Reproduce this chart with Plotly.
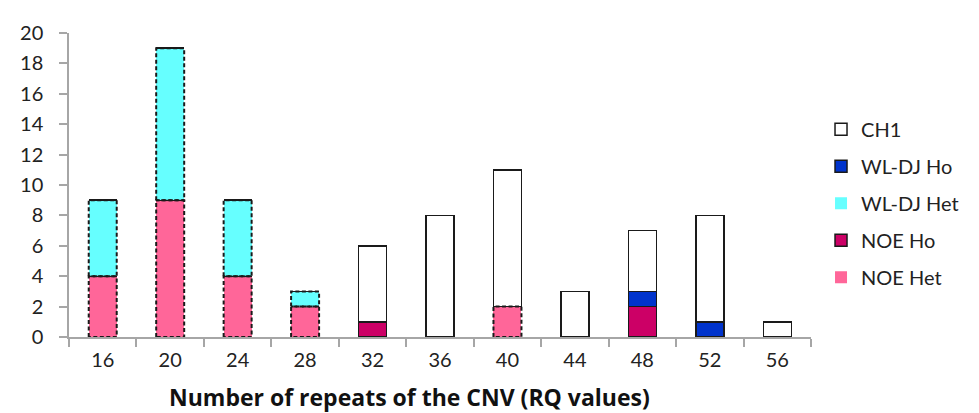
import plotly.graph_objects as go

categories = [16, 20, 24, 28, 32, 36, 40, 44, 48, 52, 56]
noe_het = [4, 9, 4, 2, 0, 0, 2, 0, 0, 0, 0]
noe_ho = [0, 0, 0, 0, 1, 0, 0, 0, 2, 0, 0]
wldj_het = [5, 10, 5, 1, 0, 0, 0, 0, 0, 0, 0]
wldj_ho = [0, 0, 0, 0, 0, 0, 0, 0, 1, 1, 0]
ch1 = [0, 0, 0, 0, 5, 8, 9, 3, 4, 7, 1]

series = [
    ("NOE Het", noe_het, "#FF6699", True, 5),
    ("NOE Ho", noe_ho, "#CC0066", False, 4),
    ("WL-DJ Het", wldj_het, "#66FFFF", True, 3),
    ("WL-DJ Ho", wldj_ho, "#0033CC", False, 2),
    ("CH1", ch1, "#FFFFFF", False, 1),
]

BAR_W = 1.66
FONT = "Lato, 'Open Sans', sans-serif"

fig = go.Figure()
base = [0] * len(categories)
outline_x, outline_y = [], []
for i, (name, vals, color, dashed, rank) in enumerate(series):
    fig.add_trace(go.Bar(
        x=categories, y=vals, name=name, width=BAR_W,
        marker=dict(color=color,
                    line=dict(color="#1a1a1a", width=0 if dashed else 1.5)),
        legendgroup=name, legendrank=rank,
    ))
    if dashed:
        for c, v, b in zip(categories, vals, base):
            if v > 0:
                x0, x1 = c - BAR_W / 2, c + BAR_W / 2
                outline_x += [x0, x0, x1, x1, x0, None]
                outline_y += [b, b + v, b + v, b, b, None]
    base = [b + v for b, v in zip(base, vals)]

fig.add_trace(go.Scatter(
    x=outline_x, y=outline_y, mode="lines", showlegend=False, hoverinfo="skip",
    line=dict(color="#1a1a1a", width=2, dash="4px,2.5px"),
))

minor_ticks = [c - 2 for c in categories] + [categories[-1] + 2]

fig.update_layout(
    barmode="stack",
    width=979, height=413,
    margin=dict(l=60, r=176, t=17, b=84),
    plot_bgcolor="white", paper_bgcolor="white",
    font=dict(family=FONT, size=20, color="#222222"),
    legend=dict(traceorder="grouped", x=1.0135, xanchor="left", y=0.44, yanchor="middle",
                font=dict(size=20), tracegroupgap=8, itemwidth=30),
    xaxis=dict(
        range=[14, 58], tickvals=categories, ticktext=[str(c) for c in categories],
        ticks="outside", ticklen=4, tickcolor="rgba(0,0,0,0)",
        showline=True, linecolor="#a6a6a6", linewidth=1.5, showgrid=False, zeroline=False,
        minor=dict(tickvals=minor_ticks, ticks="outside", ticklen=8, tickcolor="#a6a6a6", tickwidth=1.5),
    ),
    yaxis=dict(
        range=[0, 20], dtick=2, ticks="outside", ticklen=8, tickcolor="#a6a6a6", tickwidth=1.5,
        ticklabelstandoff=12,
        showline=True, linecolor="#a6a6a6", linewidth=1.5, showgrid=False, zeroline=False,
    ),
    annotations=[dict(
        text="<b>Number of repeats of the CNV (RQ values)</b>",
        xref="paper", yref="paper", x=0.459, y=-0.198, xanchor="center", yanchor="middle",
        showarrow=False, font=dict(size=23, color="#111111", family="'Open Sans', sans-serif"),
    )],
)

fig.write_html("out.html")
